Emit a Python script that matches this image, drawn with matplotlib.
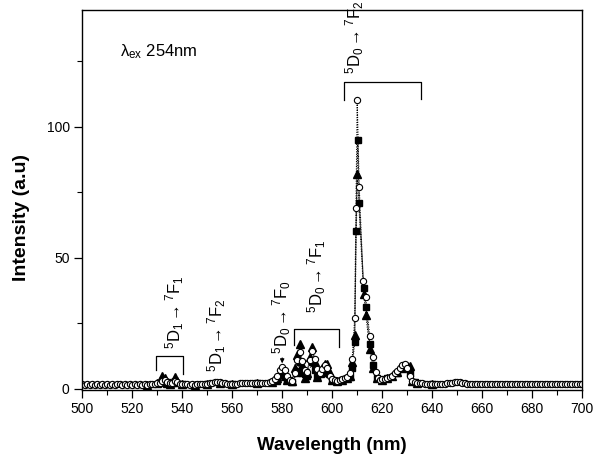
import matplotlib
matplotlib.use("Agg")
import matplotlib.pyplot as plt

plt.rcParams["font.family"] = ["Liberation Sans", "DejaVu Sans"]
plt.rcParams["mathtext.fontset"] = "custom"
plt.rcParams["mathtext.rm"] = "Liberation Sans"
plt.rcParams["mathtext.it"] = "Liberation Sans:italic"
plt.rcParams["mathtext.bf"] = "Liberation Sans:bold"

# open circles: whole range, 1 nm steps plus extra points on the big peak
circ_wl = (list(range(500, 610)) + [609.5, 610, 610.8, 612.4, 613.4, 615, 616.4, 617.5, 618.5]
           + list(range(619, 701)))
circ_int = [
    1.6, 1.5, 1.6, 1.5, 1.6, 1.5, 1.6, 1.5, 1.6, 1.5,
    1.6, 1.5, 1.6, 1.5, 1.6, 1.6, 1.5, 1.6, 1.5, 1.6,
    1.5, 1.6, 1.5, 1.6, 1.5, 1.6, 1.5, 1.6, 1.7, 1.8,
    2.0, 2.3, 2.8, 3.2, 2.6, 2.0, 2.2, 3.0, 2.4, 1.9,
    1.7, 1.6, 1.6, 1.5, 1.6, 1.5, 1.6, 1.6, 1.7, 1.8,
    1.9, 2.1, 2.3, 2.5, 2.6, 2.5, 2.3, 2.1, 1.9, 1.8,
    1.8, 1.9, 1.9, 2.0, 2.0, 2.1, 2.0, 2.1, 2.0, 2.1,
    2.1, 2.2, 2.1, 2.2, 2.3, 2.4, 2.8, 3.6, 5.0, 7.0,
    8.4, 7.2, 5.0, 3.4, 3.0, 6.0, 11.0, 14.0, 10.5, 7.0,
    6.5, 11.0, 14.4, 11.5, 7.5, 6.0, 7.5, 9.0, 8.0, 5.0,
    3.6, 3.2, 3.0, 3.2, 3.6, 4.0, 4.5, 6.0, 11.4, 27.0,
    69.0, 110.0, 77.0, 41.0, 35.0, 20.0, 12.0, 6.5, 4.0,
    3.5, 3.6, 3.8, 4.0, 4.5, 5.0, 5.8, 6.8, 8.0, 9.2, 9.5,
    8.0, 5.0, 3.0, 2.4, 2.2, 2.0, 2.0, 1.9, 1.9, 1.9,
    1.8, 1.8, 1.8, 1.8, 1.8, 1.9, 2.0, 2.1, 2.3, 2.5,
    2.6, 2.4, 2.2, 2.0, 1.9, 1.8, 1.8, 1.8, 1.7, 1.7,
    1.7, 1.6, 1.7, 1.6, 1.7, 1.6, 1.7, 1.6, 1.7, 1.6,
    1.7, 1.6, 1.7, 1.6, 1.7, 1.6, 1.7, 1.6, 1.7, 1.6,
    1.7, 1.6, 1.7, 1.6, 1.7, 1.6, 1.7, 1.6, 1.7, 1.6,
    1.7, 1.6, 1.7, 1.6, 1.7, 1.6, 1.7, 1.6, 1.7, 1.6,
    1.7,
]

# filled squares
sq_wl = [526, 532, 534, 537, 540, 550, 560, 570, 578, 580, 582, 584, 586, 587, 588, 589,
         590, 592, 593, 594, 596, 597, 598, 600, 604, 607, 608, 609, 609.5, 610.2, 610.8,
         612.6, 613.5, 615, 616.5, 618, 622, 626, 629, 631, 633, 640]
sq_int = [1.5, 2.0, 2.5, 2.0, 1.6, 1.8, 1.8, 2.0, 3.0, 5.5, 3.5, 2.5, 6.0, 10.0, 6.0, 5.7,
          5.0, 10.0, 7.0, 4.5, 6.0, 7.5, 6.0, 3.5, 3.5, 4.5, 8.0, 18.0, 60.0, 95.0, 71.0,
          38.5, 31.0, 17.0, 9.0, 4.0, 4.0, 6.0, 8.5, 6.0, 2.5, 1.8]

# filled triangles
tri_wl = [526, 530, 531, 532, 533, 534, 535, 536, 537, 538, 540, 545, 550, 555, 560, 570,
          576, 578, 579, 580, 581, 582, 584, 585, 586, 587, 588, 589, 590, 591, 592, 593,
          594, 595, 596, 597, 598, 599, 600, 602, 604, 606, 607, 608, 609, 610, 612.6,
          613.5, 615, 616.5, 618, 620, 622, 624, 626, 628, 630, 631, 632, 634, 640]
tri_int = [1.5, 2.0, 3.0, 5.0, 4.0, 2.0, 1.8, 2.5, 4.4, 3.0, 1.6, 1.5, 1.8, 2.3, 1.8, 2.0,
           2.5, 4.0, 5.5, 6.5, 5.0, 3.5, 3.0, 8.0, 13.0, 17.0, 9.0, 4.0, 6.0, 12.0, 16.0, 10.0,
           4.5, 6.0, 8.0, 9.5, 9.5, 6.0, 3.5, 3.0, 3.5, 4.0, 5.0, 10.0, 20.5, 82.0, 36.0,
           28.0, 15.0, 8.0, 4.0, 3.5, 4.0, 5.0, 6.5, 8.0, 8.7, 8.7, 3.0, 2.0, 1.8]

# transition labels
trans_labels = [r"$\mathregular{^5D_1{\rightarrow}^7F_1}$",
                r"$\mathregular{^5D_1{\rightarrow}^7F_2}$",
                r"$\mathregular{^5D_0{\rightarrow}^7F_0}$",
                r"$\mathregular{^5D_0{\rightarrow}^7F_1}$",
                r"$\mathregular{^5D_0{\rightarrow}^7F_2}$"]
trans_x = [537.2, 554, 580, 594, 608.8]
trans_y = [15.2, 6.5, 13.3, 29, 120]

# brackets: x0, x1, top, left leg end, right leg end
brackets = [(529.5, 540.4, 12.3, 7.0, 5.7),
            (584.8, 602.8, 22.8, 16.5, 16.0),
            (604.8, 635.6, 117.0, 110.0, 110.5)]

fig = plt.figure(figsize=(6.04, 4.54), dpi=100)
ax = fig.add_axes([0.136, 0.141, 0.828, 0.837])

line_kw = dict(color="black", linestyle=(0, (1, 1.2)), linewidth=0.8)
ax.plot(sq_wl, sq_int, marker="s", markersize=4.5, markerfacecolor="black",
        markeredgecolor="black", **line_kw)
ax.plot(tri_wl, tri_int, marker="^", markersize=5.5, markerfacecolor="black",
        markeredgecolor="black", **line_kw)
ax.plot(circ_wl, circ_int, marker="o", markersize=4.5, markerfacecolor="white",
        markeredgecolor="black", markeredgewidth=0.8, **line_kw)

for txt, x, y in zip(trans_labels, trans_x, trans_y):
    ax.text(x, y, txt, rotation=90, ha="center", va="bottom", fontsize=12, clip_on=False)

for x0, x1, top, l0, l1 in brackets:
    ax.plot([x0, x0, x1, x1], [l0, top, top, l1], color="black", linewidth=0.9,
            clip_on=False)

# small arrow pointing at the 5D0 -> 7F0 peak
ax.annotate("", xy=(580, 8.6), xytext=(580, 12.8),
            arrowprops=dict(arrowstyle="-|>", color="black", lw=0.8, mutation_scale=6))

ax.text(515, 127, r"$\mathregular{\lambda_{ex}}$ 254nm", fontsize=12)

ax.set_xlim(500, 700)
ax.set_ylim(-0.5, 144.5)
ax.set_xticks(range(500, 701, 20))
ax.set_xticks(range(500, 701, 10), minor=True)
ax.set_yticks([0, 50, 100])
ax.set_yticks([25, 75, 125], minor=True)
ax.tick_params(which="major", direction="out", length=6, width=0.9, labelsize=10, pad=3)
ax.tick_params(which="minor", direction="out", length=3.5, width=0.8)
for s in ax.spines.values():
    s.set_linewidth(1.0)

ax.set_xlabel("Wavelength (nm)", fontsize=13.5, fontweight="bold")
ax.set_ylabel("Intensity (a.u)", fontsize=14, fontweight="bold")
ax.xaxis.set_label_coords(0.5, -0.124)
ax.yaxis.set_label_coords(-0.104, 0.453)

fig.savefig("out.png", dpi=100)
